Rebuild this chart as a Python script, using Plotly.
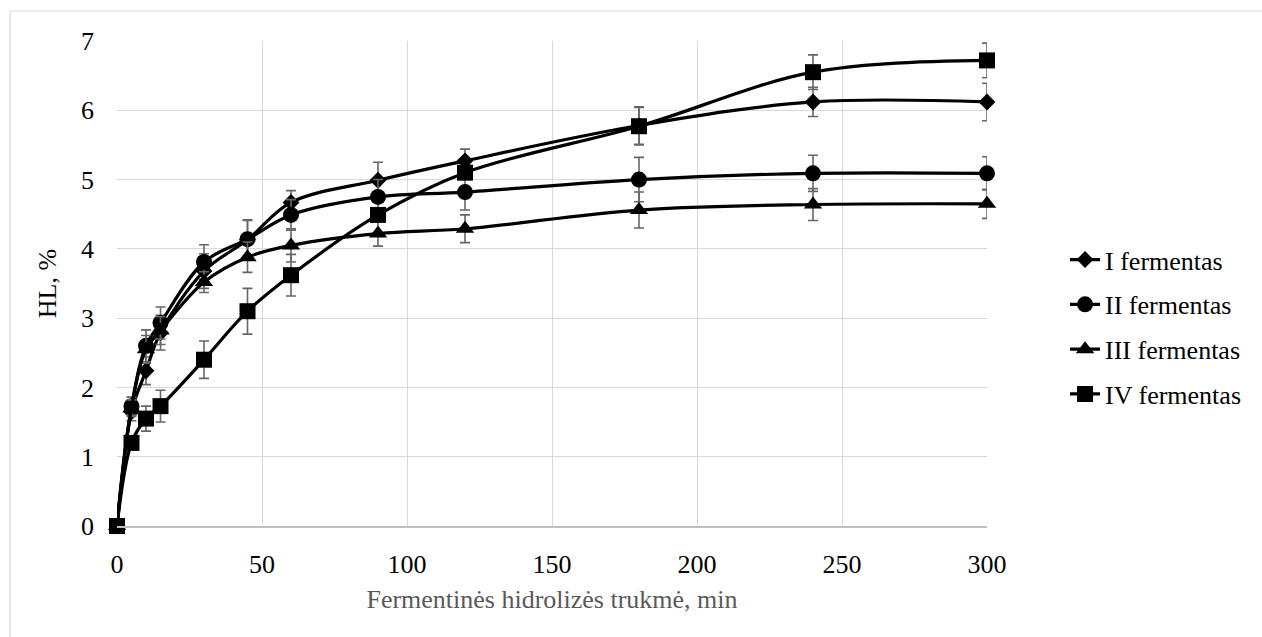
import plotly.graph_objects as go

# ---- data ----
time_min = [0, 5, 10, 15, 30, 45, 60, 90, 120, 180, 240, 300]

series_names = ["I fermentas", "II fermentas", "III fermentas", "IV fermentas"]

hl_I = [0, 1.65, 2.24, 2.79, 3.68, 4.13, 4.67, 4.99, 5.27, 5.78, 6.12, 6.12]
hl_II = [0, 1.73, 2.60, 2.93, 3.81, 4.14, 4.49, 4.75, 4.82, 5.00, 5.09, 5.09]
hl_III = [0, 1.70, 2.55, 2.82, 3.52, 3.88, 4.05, 4.22, 4.29, 4.56, 4.64, 4.65]
hl_IV = [0, 1.20, 1.55, 1.73, 2.40, 3.10, 3.62, 4.49, 5.10, 5.77, 6.55, 6.72]

err_I = [0, 0.13, 0.20, 0.25, 0.25, 0.28, 0.17, 0.26, 0.17, 0.27, 0.21, 0.27]
err_II = [0, 0.13, 0.23, 0.23, 0.25, 0.28, 0.22, 0.25, 0.26, 0.32, 0.26, 0.24]
err_III = [0, 0.12, 0.20, 0.20, 0.15, 0.22, 0.24, 0.18, 0.20, 0.26, 0.23, 0.21]
err_IV = [0, 0.10, 0.18, 0.23, 0.27, 0.33, 0.30, 0.10, 0.10, 0.27, 0.25, 0.25]

x_ticks = [0, 50, 100, 150, 200, 250, 300]
y_ticks = [0, 1, 2, 3, 4, 5, 6, 7]

x_title = "Fermentinės hidrolizės trukmė, min"
y_title = "HL, %"

FONT = "Liberation Serif, Times New Roman, serif"

values = [hl_I, hl_II, hl_III, hl_IV]
errors = [err_I, err_II, err_III, err_IV]
symbols = ["diamond", "circle", "triangle-up", "square"]
sizes = [13, 16, 16, 16]

fig = go.Figure()
for name, ys, es, sym, sz in zip(series_names, values, errors, symbols, sizes):
    fig.add_trace(go.Scatter(
        x=time_min, y=ys, name=name, mode="lines+markers",
        line=dict(color="black", width=3.2, shape="spline", smoothing=1.0),
        marker=dict(symbol=sym, size=sz, color="black", line=dict(width=0)),
        error_y=dict(type="data", array=es, visible=True, color="#666666",
                     thickness=1.6, width=5),
        legendgroup=name,
        cliponaxis=False,
    ))

fig.update_layout(
    width=1262, height=637,
    margin=dict(l=117, r=275, t=41, b=111),
    paper_bgcolor="white", plot_bgcolor="white",
    font=dict(family=FONT, size=26, color="black"),
    showlegend=True,
    legend=dict(
        x=1.0897, xanchor="left", y=0.41, yanchor="middle",
        font=dict(family=FONT, size=26, color="black"),
        traceorder="grouped", tracegroupgap=8,
        bgcolor="rgba(0,0,0,0)", itemwidth=30,
    ),
    shapes=[dict(type="rect", xref="paper", yref="paper",
                 x0=-107 / 870, x1=1300 / 870,
                 y0=-200 / 485, y1=(526 - 11) / 485,
                 line=dict(color="#d9d9d9", width=1.2), fillcolor="rgba(0,0,0,0)",
                 layer="below")],
)

fig.update_xaxes(
    range=[0, 300], tickvals=x_ticks, ticktext=[str(v) for v in x_ticks],
    showgrid=True, gridcolor="#d9d9d9", gridwidth=1.3,
    zeroline=False, showline=True, linecolor="#bfbfbf", linewidth=1.5,
    ticks="", ticklabelstandoff=14,
    tickfont=dict(family=FONT, size=26, color="black"),
    title=dict(text=x_title, font=dict(family=FONT, size=26, color="#595959"), standoff=12),
)
fig.update_yaxes(
    range=[0, 7], tickvals=y_ticks, ticktext=[str(v) for v in y_ticks],
    showgrid=True, gridcolor="#d9d9d9", gridwidth=1.3,
    zeroline=False, showline=False,
    ticks="", ticklabelstandoff=22,
    tickfont=dict(family=FONT, size=26, color="black"),
    title=dict(text=y_title, font=dict(family=FONT, size=26, color="black"), standoff=16),
)

fig.write_html("out.html")
